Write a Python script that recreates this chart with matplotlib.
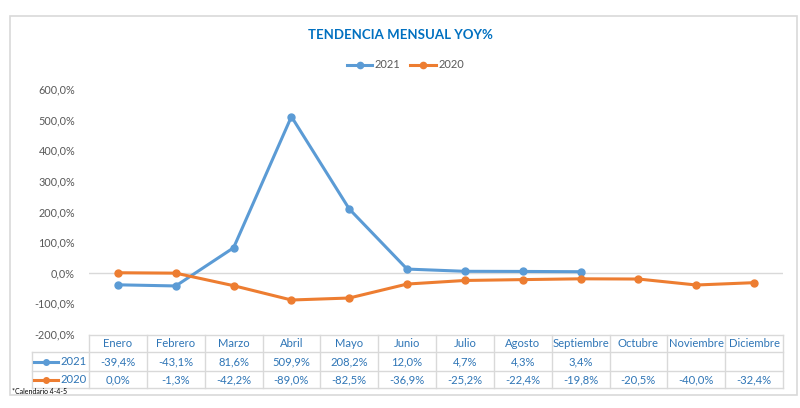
import matplotlib
matplotlib.use("Agg")
import matplotlib.pyplot as plt
from matplotlib.lines import Line2D
from matplotlib.patches import Rectangle
import matplotlib.transforms as mtransforms

months = ["Enero", "Febrero", "Marzo", "Abril", "Mayo", "Junio", "Julio",
          "Agosto", "Septiembre", "Octubre", "Noviembre", "Diciembre"]
s2021 = [-39.4, -43.1, 81.6, 509.9, 208.2, 12.0, 4.7, 4.3, 3.4]
s2020 = [0.0, -1.3, -42.2, -89.0, -82.5, -36.9, -25.2, -22.4, -19.8, -20.5, -40.0, -32.4]
yticks = [-200, -100, 0, 100, 200, 300, 400, 500, 600]

BLUE = "#5B9BD5"
ORANGE = "#ED7D31"
TXT = "#2E75B6"
GRAY = "#595959"
GRID = "#D9D9D9"

plt.rcParams['font.family'] = ['Lato', 'DejaVu Sans']

W, H = 800, 408
fig = plt.figure(figsize=(8, 4.08), dpi=100)

def fx(px):
    return px / W

def fy(py):
    return 1 - py / H

# outer border
fig.add_artist(Rectangle((fx(10), fy(395)), fx(797) - fx(10), fy(16) - fy(395),
                         transform=fig.transFigure, fill=False, edgecolor="#D9D9D9", lw=1.2))

ax = fig.add_axes([fx(89), fy(334), fx(783) - fx(89), fy(89) - fy(334)])
ax.set_xlim(-0.5, 11.5)
ax.set_ylim(-200, 600)
for s in ax.spines.values():
    s.set_visible(False)
ax.set_xticks([])
ax.set_yticks(yticks)
ax.set_yticklabels([f"{v:,.1f}%".replace(".", ",") for v in yticks], color=GRAY, fontsize=7.8)
ax.tick_params(axis='y', length=0, pad=10)
ax.axhline(0, color=GRID, lw=1, zorder=0)

ax.plot(range(len(s2021)), s2021, color=BLUE, lw=2.2, marker='o', ms=5, zorder=3)
ax.plot(range(len(s2020)), s2020, color=ORANGE, lw=2.2, marker='o', ms=5, zorder=3)

fig.text(0.5, fy(35), "TENDENCIA MENSUAL YOY%", ha='center', va='center',
         color="#0070C0", fontsize=9.5, fontweight='bold')

# legend
for (x0, x1, col, lab) in [(347, 372, BLUE, "2021"), (410, 436, ORANGE, "2020")]:
    fig.add_artist(Line2D([fx(x0), fx(x1)], [fy(65), fy(65)], transform=fig.transFigure,
                          color=col, lw=2.2))
    fig.add_artist(Line2D([fx((x0 + x1) / 2)], [fy(65)], transform=fig.transFigure,
                          color=col, marker='o', ms=4.5))
    fig.text(fx(x1 + 3), fy(65), lab, ha='left', va='center', color=GRAY, fontsize=8)

# data table
trans = mtransforms.blended_transform_factory(ax.transData, fig.transFigure)
y_head_top, y_r1, y_r2, y_bot = 335, 352, 371, 388
lk = dict(transform=fig.transFigure, color=GRID, lw=1)
fig.add_artist(Line2D([fx(89), fx(783)], [fy(y_head_top)] * 2, **lk))
for yy in (y_r1, y_r2, y_bot):
    fig.add_artist(Line2D([fx(32), fx(783)], [fy(yy)] * 2, **lk))
fig.add_artist(Line2D([fx(32), fx(32)], [fy(y_r1), fy(y_bot)], **lk))
for i in range(13):
    fig.add_artist(Line2D([i - 0.5, i - 0.5], [fy(y_head_top), fy(y_bot)],
                          transform=trans, color=GRID, lw=1))

def fmt(v):
    return f"{v:.1f}%".replace(".", ",")

FS = 8.1
for i, m in enumerate(months):
    fig.text(i, fy((y_head_top + y_r1) / 2), m, transform=trans, ha='center', va='center',
             color=TXT, fontsize=FS)
    if i < len(s2021):
        fig.text(i, fy((y_r1 + y_r2) / 2), fmt(s2021[i]), transform=trans, ha='center',
                 va='center', color=TXT, fontsize=FS)
    fig.text(i, fy((y_r2 + y_bot) / 2), fmt(s2020[i]), transform=trans, ha='center',
             va='center', color=TXT, fontsize=FS)

for (yy, col, lab) in [((y_r1 + y_r2) / 2, BLUE, "2021"), ((y_r2 + y_bot) / 2, ORANGE, "2020")]:
    fig.add_artist(Line2D([fx(34), fx(58)], [fy(yy)] * 2, transform=fig.transFigure,
                          color=col, lw=2.2))
    fig.add_artist(Line2D([fx(46)], [fy(yy)], transform=fig.transFigure,
                          color=col, marker='o', ms=4))
    fig.text(fx(87), fy(yy), lab, ha='right', va='center', color=TXT, fontsize=FS)

fig.text(fx(12), fy(392), "*Calendario 4-4-5", ha='left', va='center', color="#000000",
         fontsize=5)

fig.savefig("out.png", dpi=100)
